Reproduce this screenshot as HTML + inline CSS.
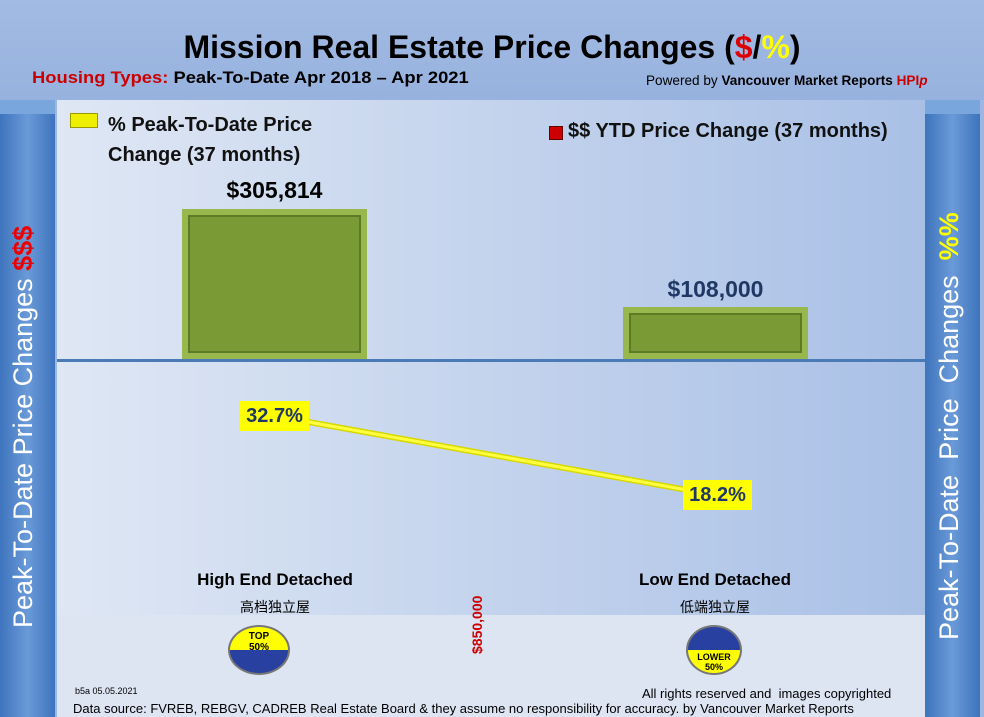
<!DOCTYPE html>
<html><head><style>
body{margin:0;width:984px;height:717px;overflow:hidden;font-family:"Liberation Sans","Noto Sans CJK SC",sans-serif;background:#9db7e2;position:relative}
.a{position:absolute}
.side{position:absolute;top:100px;width:55px;height:617px;background:linear-gradient(90deg,#3e74bd,#6a9ad8 50%,#3e74bd);box-shadow:inset 0 14px 0 #7aa6de}
.vt{position:absolute;color:#fff;font-size:27px;white-space:nowrap;transform-origin:0 0;transform:rotate(-90deg)}
</style></head><body>
<div class="a" style="left:0;top:0;width:984px;height:100px;background:linear-gradient(#a2bbe4,#97b2de)"></div>
<div class="a" style="left:0;top:29px;width:984px;text-align:center;font-size:32px;font-weight:bold;color:#000">Mission Real Estate Price Changes (<span style="color:#d00">$</span>/<span style="color:#ff0">%</span>)</div>
<div class="a" style="left:32px;top:68px;font-size:17px;font-weight:bold;transform:scaleX(1.08);transform-origin:0 0"><span style="color:#c00">Housing Types:</span> Peak-To-Date Apr 2018 – Apr 2021</div>
<div class="a" style="left:646px;top:72px;font-size:14px;transform:scaleX(0.97);transform-origin:0 0">Powered by <b>Vancouver Market Reports <span style="color:#c00">HPI<i>p</i></span></b></div>
<div class="a" style="left:57px;top:100px;width:868px;height:515px;background:linear-gradient(90deg,#dfe7f4,#a9c0e6)"></div>
<div class="a" style="left:57px;top:615px;width:868px;height:102px;background:#dde5f3"></div>
<div class="side" style="left:0"></div>
<div class="side" style="left:925px"></div>
<div class="vt" style="left:8px;top:628px">Peak-To-Date Price Changes <span style="color:#e00;font-weight:bold">$$$</span></div>
<div class="vt" style="left:934px;top:640px">Peak-To-Date&nbsp; Price&nbsp; Changes&nbsp; <span style="color:#ff0;font-weight:bold">%%</span></div>
<div class="a" style="left:70px;top:113px;width:26px;height:13px;background:#ee0;border:1px solid #990"></div>
<div class="a" style="left:108px;top:110px;font-size:20px;line-height:30px;font-weight:bold;color:#111">% Peak-To-Date Price<br>Change (37 months)</div>
<div class="a" style="left:549px;top:126px;width:12px;height:12px;background:#c00;border:1px solid #600"></div>
<div class="a" style="left:568px;top:120px;font-size:20px;font-weight:bold;color:#111">$$ YTD Price Change (37 months)</div>
<div class="a" style="left:182px;top:209px;width:185px;height:150px;background:#7a9a35;box-shadow:inset 0 0 0 6px #98b84e,inset 0 0 0 8px #5f7a25"></div>
<div class="a" style="left:623px;top:307px;width:185px;height:52px;background:#7a9a35;box-shadow:inset 0 0 0 6px #98b84e,inset 0 0 0 8px #5f7a25"></div>
<div class="a" style="left:182px;top:177px;width:185px;text-align:center;font-size:23px;font-weight:bold;color:#000">$305,814</div>
<div class="a" style="left:623px;top:276px;width:185px;text-align:center;font-size:23px;font-weight:bold;color:#1f3864">$108,000</div>
<div class="a" style="left:57px;top:359px;width:868px;height:3px;background:#4a7bb7"></div>
<svg class="a" style="left:0;top:0" width="984" height="717"><line x1="275" y1="416" x2="715" y2="495" stroke="#d8d800" stroke-width="6"/><line x1="275" y1="416" x2="715" y2="495" stroke="#ffff40" stroke-width="3"/></svg>
<div class="a" style="left:240px;top:401px;width:69px;height:30px;background:#ff0;font-size:20px;font-weight:bold;color:#1f3864;line-height:30px;text-align:center">32.7%</div>
<div class="a" style="left:683px;top:480px;width:69px;height:30px;background:#ff0;font-size:20px;font-weight:bold;color:#1f3864;line-height:30px;text-align:center">18.2%</div>
<div class="a" style="left:175px;top:570px;width:200px;text-align:center;font-size:17px;font-weight:bold">High End Detached</div>
<div class="a" style="left:175px;top:597px;width:200px;text-align:center;font-size:14px">高档独立屋</div>
<div class="a" style="left:615px;top:570px;width:200px;text-align:center;font-size:17px;font-weight:bold">Low End Detached</div>
<div class="a" style="left:615px;top:597px;width:200px;text-align:center;font-size:14px">低端独立屋</div>
<div class="vt" style="left:469px;top:654px;font-size:14px;font-weight:bold;color:#c00">$850,000</div>
<div class="a" style="left:228px;top:625px;width:62px;height:50px;border-radius:50%;overflow:hidden;background:linear-gradient(#ff0 50%,#2840a0 50%);border:2px solid #777;text-align:center;font-size:10px;font-weight:bold;line-height:11px;padding-top:4px;box-sizing:border-box">TOP<br>50%</div>
<div class="a" style="left:686px;top:625px;width:56px;height:50px;border-radius:50%;overflow:hidden;background:linear-gradient(#2840a0 50%,#ff0 50%);border:2px solid #777;text-align:center;font-size:9px;font-weight:bold;line-height:10px;padding-top:25px;box-sizing:border-box">LOWER<br>50%</div>
<div class="a" style="left:75px;top:686px;font-size:9px">b5a 05.05.2021</div>
<div class="a" style="left:642px;top:686px;font-size:13px">All rights reserved and&nbsp; images copyrighted</div>
<div class="a" style="left:73px;top:701px;font-size:13px">Data source: FVREB, REBGV, CADREB Real Estate Board &amp; they assume no responsibility for accuracy. by Vancouver Market Reports</div>
</body></html>
